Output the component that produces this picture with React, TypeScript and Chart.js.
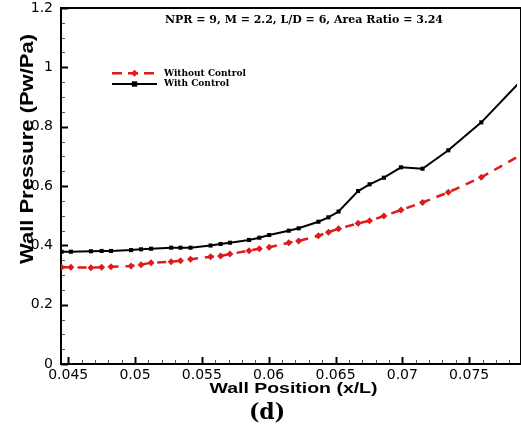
import React, { useEffect, useRef } from 'react';
import { Chart, registerables } from 'chart.js';

Chart.register(...registerables);

// ---------------- data ----------------
const TITLE = 'NPR = 9, M = 2.2, L/D = 6, Area Ratio = 3.24';
const X_TITLE = 'Wall Position (x/L)';
const Y_TITLE = 'Wall Pressure (Pw/Pa)';
const PANEL = '(d)';
const SERIES_NAMES = ['Without Control', 'With Control'];

const X_TICKS = [0.045, 0.05, 0.055, 0.06, 0.065, 0.07, 0.075];
const Y_TICKS = [0, 0.2, 0.4, 0.6, 0.8, 1, 1.2];

const X_POS = [
  0.0445, 0.0452, 0.0467, 0.0475, 0.0482, 0.0497, 0.05045, 0.0512, 0.0527, 0.0534,
  0.05415, 0.05565, 0.0564, 0.0571, 0.05853, 0.0593, 0.06004, 0.0615, 0.06224, 0.06372,
  0.06447, 0.06523, 0.06669, 0.06755, 0.06862, 0.0699, 0.07151, 0.07344, 0.07591, 0.0795,
];
const WITH_CONTROL = [
  0.3785, 0.3785, 0.38, 0.381, 0.381, 0.384, 0.3866, 0.3886, 0.392, 0.392,
  0.392, 0.3994, 0.4045, 0.4088, 0.418, 0.4257, 0.4348, 0.4493, 0.4574, 0.4796,
  0.4944, 0.514, 0.5831, 0.6057, 0.6279, 0.663, 0.6582, 0.7203, 0.8146, 0.9835,
];
const WITHOUT_CONTROL = [
  0.3259, 0.3259, 0.3246, 0.3259, 0.328, 0.3303, 0.3347, 0.3414, 0.3448, 0.3482,
  0.3529, 0.3616, 0.364, 0.3707, 0.3819, 0.3886, 0.3933, 0.4088, 0.4146, 0.4324,
  0.4442, 0.456, 0.4742, 0.483, 0.4988, 0.519, 0.5443, 0.5787, 0.6293, 0.7206,
];

const X_MIN = 0.04446;
const X_MAX = 0.07858;
const Y_MIN = 0;
const Y_MAX = 1.2;
const X_MINOR_STEP = 0.001;
const Y_MINOR_STEP = 0.05;

const RED = '#de1a1c';
const BLACK = '#000000';

function stretchedText(ctx: any, text: string, font: string, targetWidth: number) {
  ctx.font = font;
  const w = ctx.measureText(text).width;
  const k = targetWidth / w;
  ctx.save();
  ctx.scale(k, 1);
  ctx.fillText(text, 0, 0);
  ctx.restore();
}

const decorPlugin = {
  id: 'decor',
  beforeDatasetsDraw(chart: any) {
    const { ctx, chartArea: a, scales } = chart;
    const xs = scales.x;
    const ys = scales.y;
    ctx.save();
    const nx = Math.round((X_MAX - 0.044) / X_MINOR_STEP);
    for (let i = 0; i <= nx; i++) {
      const v = 0.044 + i * X_MINOR_STEP;
      if (v < X_MIN || v > X_MAX) continue;
      const major = (i - 1) % 5 === 0;
      const px = Math.round(xs.getPixelForValue(v)) + 0.5;
      ctx.beginPath();
      ctx.lineWidth = major ? 2 : 1;
      ctx.strokeStyle = major ? '#000' : '#555';
      ctx.moveTo(px, a.bottom);
      ctx.lineTo(px, a.bottom - (major ? 7 : 4));
      ctx.stroke();
    }
    const ny = Math.round((Y_MAX - Y_MIN) / Y_MINOR_STEP);
    for (let i = 0; i <= ny; i++) {
      const v = Y_MIN + i * Y_MINOR_STEP;
      const major = i % 4 === 0;
      const py = Math.round(ys.getPixelForValue(v)) + 0.5;
      ctx.beginPath();
      ctx.lineWidth = major ? 2 : 1;
      ctx.strokeStyle = major ? '#000' : '#555';
      ctx.moveTo(a.left, py);
      ctx.lineTo(a.left + (major ? 7 : 4), py);
      ctx.stroke();
    }
    ctx.lineWidth = 2;
    ctx.strokeStyle = '#000';
    ctx.strokeRect(a.left, a.top, a.right - a.left + 4, a.bottom - a.top);
    ctx.restore();
  },
  afterDraw(chart: any) {
    const { ctx, chartArea: a } = chart;
    ctx.save();
    ctx.fillStyle = '#000';
    ctx.textAlign = 'center';
    ctx.textBaseline = 'alphabetic';

    ctx.font = 'bold 11px "DejaVu Serif"';
    ctx.fillText(TITLE, a.left + 243, a.top + 15);

    ctx.save();
    ctx.translate(293.5, a.bottom + 28.7);
    stretchedText(ctx, X_TITLE, 'bold 14px "Liberation Sans"', 168);
    ctx.restore();

    ctx.save();
    ctx.translate(32.5, 149);
    ctx.rotate(-Math.PI / 2);
    stretchedText(ctx, Y_TITLE, 'bold 19px "Liberation Sans"', 230);
    ctx.restore();

    ctx.font = 'bold 22px "DejaVu Serif"';
    ctx.fillText(PANEL, 267, a.bottom + 55);

    // legend
    const lx0 = a.left + 51;
    const lx1 = a.left + 96;
    const lmid = (lx0 + lx1) / 2;
    const ly0 = a.top + 65.3;
    const ly1 = a.top + 76;

    ctx.strokeStyle = RED;
    ctx.lineWidth = 2.5;
    ctx.setLineDash([10, 6]);
    ctx.beginPath();
    ctx.moveTo(lx0, ly0);
    ctx.lineTo(lx1, ly0);
    ctx.stroke();
    ctx.setLineDash([]);
    ctx.fillStyle = RED;
    ctx.beginPath();
    ctx.moveTo(lmid, ly0 - 3.5);
    ctx.lineTo(lmid + 3.5, ly0);
    ctx.lineTo(lmid, ly0 + 3.5);
    ctx.lineTo(lmid - 3.5, ly0);
    ctx.closePath();
    ctx.fill();

    ctx.strokeStyle = BLACK;
    ctx.lineWidth = 2;
    ctx.beginPath();
    ctx.moveTo(lx0, ly1);
    ctx.lineTo(lx1, ly1);
    ctx.stroke();
    ctx.fillStyle = BLACK;
    ctx.fillRect(lmid - 2.7, ly1 - 2.7, 5.4, 5.4);

    ctx.fillStyle = '#000';
    ctx.textAlign = 'left';
    ctx.textBaseline = 'middle';
    ctx.font = 'bold 9px "DejaVu Serif"';
    ctx.fillText(SERIES_NAMES[0], lx1 + 7, ly0);
    ctx.fillText(SERIES_NAMES[1], lx1 + 7, ly1);
    ctx.restore();
  },
};

export default function App() {
  const ref = useRef<HTMLCanvasElement | null>(null);

  useEffect(() => {
    if (!ref.current) return;
    const chart = new Chart(ref.current, {
      type: 'line',
      data: {
        datasets: [
          {
            label: SERIES_NAMES[0],
            data: X_POS.map((x, i) => ({ x, y: WITHOUT_CONTROL[i] })),
            borderColor: RED,
            backgroundColor: RED,
            borderWidth: 2.5,
            borderDash: [9, 7],
            pointStyle: 'rectRot',
            pointRadius: 3.5,
            pointBorderWidth: 0,
            pointBackgroundColor: RED,
            tension: 0,
          },
          {
            label: SERIES_NAMES[1],
            data: X_POS.map((x, i) => ({ x, y: WITH_CONTROL[i] })),
            borderColor: BLACK,
            backgroundColor: BLACK,
            borderWidth: 2,
            pointStyle: 'rect',
            pointRadius: 2.9,
            pointBorderWidth: 0,
            pointBackgroundColor: BLACK,
            tension: 0,
          },
        ],
      },
      options: {
        animation: false,
        responsive: false,
        layout: { padding: { top: 8, left: 0, right: 0, bottom: 0 } },
        plugins: {
          legend: { display: false },
          tooltip: { enabled: false },
          title: { display: false },
        },
        scales: {
          x: {
            type: 'linear',
            min: X_MIN,
            max: X_MAX,
            grid: { display: false, drawTicks: false },
            border: { display: false },
            afterBuildTicks: (s: any) => {
              s.ticks = X_TICKS.map((v) => ({ value: v }));
            },
            afterFit: (s: any) => {
              s.height = 64;
              s.paddingLeft = 0;
              s.paddingRight = 0;
            },
            ticks: {
              color: '#000',
              padding: 2.5,
              maxRotation: 0,
              autoSkip: false,
              font: { family: 'DejaVu Sans', size: 14 },
              callback: (v: any) => String(v),
            },
          },
          y: {
            type: 'linear',
            min: Y_MIN,
            max: Y_MAX,
            grid: { display: false, drawTicks: false },
            border: { display: false },
            afterBuildTicks: (s: any) => {
              s.ticks = Y_TICKS.map((v) => ({ value: v }));
            },
            afterFit: (s: any) => {
              s.width = 61;
              s.paddingTop = 0;
              s.paddingBottom = 0;
            },
            ticks: {
              color: '#000',
              padding: 8,
              autoSkip: false,
              font: { family: 'DejaVu Sans', size: 14 },
              callback: (v: any) => String(v),
            },
          },
        },
      },
      plugins: [decorPlugin],
    } as any);
    return () => chart.destroy();
  }, []);

  return (
    <div style={{ position: 'absolute', left: 0, top: 0, width: 521, height: 428, background: '#fff' }}>
      <canvas ref={ref} width={521} height={428} />
    </div>
  );
}
